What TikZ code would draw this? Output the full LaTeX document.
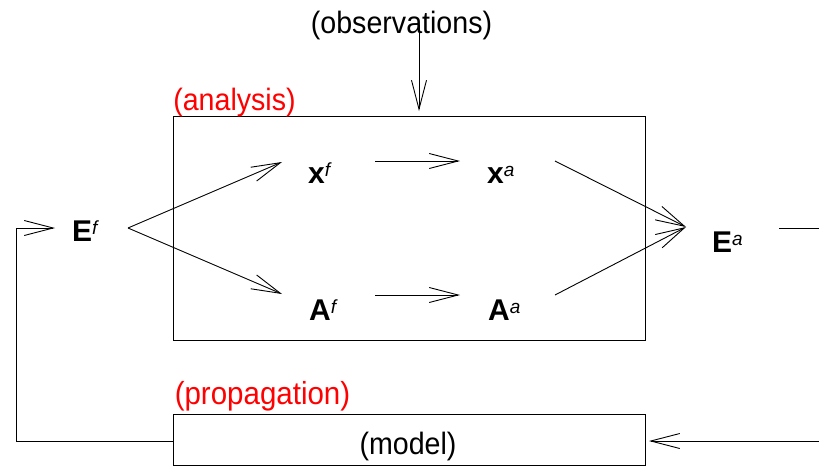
\documentclass[tikz,border=0pt]{standalone}
\usepackage{fontspec}
\setmainfont{Liberation Sans}
\usetikzlibrary{arrows.meta}
\definecolor{lblred}{RGB}{255,0,0}
\newcommand\mysup[1]{\raisebox{7pt}{\fontsize{19}{19}\selectfont\mdseries\itshape #1}}
\newcommand\tallt[1]{\scalebox{1}[1.08]{#1}}
\begin{document}
\begin{tikzpicture}[x=1pt,y=-1pt,
  lbl/.style={inner sep=0pt, anchor=base, font=\fontsize{28.6}{33}\selectfont},
  redlbl/.style={lbl, text=lblred},
  sym/.style={inner sep=0pt, anchor=base west, font=\fontsize{30}{36}\selectfont\bfseries},
  conn/.style={line width=0.9pt},
  arr/.style={conn, -{Straight Barb[length=29pt,width=15pt,line width=0.9pt]}},
  boxed/.style={draw, line width=0.9pt, inner sep=0pt}]
\useasboundingbox (0,0) rectangle (819,466);

% boxes
\node[boxed, minimum width=472pt, minimum height=224pt] (anbox) at (409,228) {};
\node[boxed, minimum width=472pt, minimum height=51pt] (modbox) at (409,439.5) {};

% labels
\node[lbl] (obs) at (401.5,33) {\tallt{(observations)}};
\node[redlbl] (anlbl) at (234.5,110) {\tallt{(analysis)}};
\node[redlbl, font=\fontsize{29.5}{34}\selectfont] (prlbl) at (262.5,404) {\tallt{(propagation)}};
\node[lbl] (model) at (408,454) {\tallt{(model)}};

% symbols
\node[sym] (Ef) at (72,241) {E\mysup{f}};
\node[sym] (xf) at (308,183) {x\mysup{f}};
\node[sym] (xa) at (487,183) {x\mysup{a}};
\node[sym] (Af) at (309,320) {A\mysup{f}};
\node[sym] (Aa) at (488,320) {A\mysup{a}};
\node[sym] (Ea) at (712,252) {E\mysup{a}};

% connector end points
\coordinate (obsS) at (419,25);
\coordinate (obsT) at (419,111);
\coordinate (efO) at (128,228);
\coordinate (xfT) at (282,162);
\coordinate (afT) at (282,294);
\coordinate (xfO) at (375,161);
\coordinate (xaT) at (460,161);
\coordinate (afO) at (375,295);
\coordinate (aaT) at (460,295);
\coordinate (xaO) at (555,161);
\coordinate (aaO) at (555,295);
\coordinate (eaT) at (686,227);
\coordinate (eaO) at (779,228);
\coordinate (eaE) at (819,228);
\coordinate (rIn) at (819,441);
\coordinate (modT) at (649,441);
\coordinate (lc1) at (16,441);
\coordinate (lc2) at (16,228);
\coordinate (efT) at (55,228);

% connectors
\draw[arr] (obsS) -- (obsT);
\draw[arr] (efO) -- (xfT);
\draw[arr] (efO) -- (afT);
\draw[arr] (xfO) -- (xaT);
\draw[arr] (afO) -- (aaT);
\draw[arr] (xaO) -- (eaT);
\draw[arr] (aaO) -- (eaT);
\draw[conn] (eaO) -- (eaE);
\draw[arr] (rIn) -- (modT);
\draw[arr] (modbox.west |- lc1) -- (lc1) -- (lc2) -- (efT);
\end{tikzpicture}
\end{document}
